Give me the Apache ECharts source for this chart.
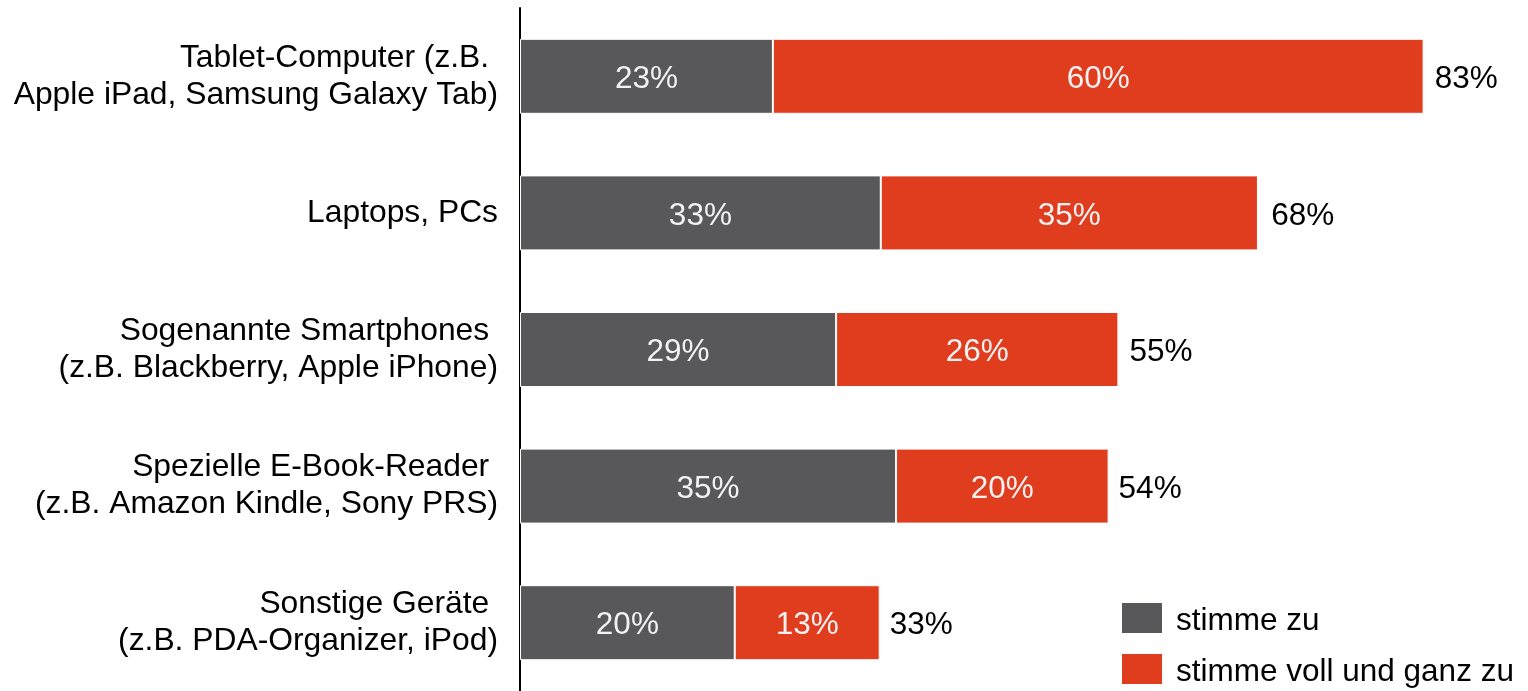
<!DOCTYPE html>
<html>
<head>
<meta charset="utf-8">
<script src="https://cdn.jsdelivr.net/npm/echarts@6/dist/echarts.min.js"></script>
<style>html,body{margin:0;padding:0;background:#fff;}#c{width:1528px;height:691px;}</style>
</head>
<body>
<div id="c"></div>
<script>
const categories = [
  'Tablet-Computer (z.B. \nApple iPad, Samsung Galaxy Tab)',
  'Laptops, PCs',
  'Sogenannte Smartphones \n(z.B. Blackberry, Apple iPhone)',
  'Spezielle E-Book-Reader \n(z.B. Amazon Kindle, Sony PRS)',
  'Sonstige Geräte \n(z.B. PDA-Organizer, iPod)'
];
const stimmeZu = [23.2, 33.1, 29.0, 34.5, 19.7];
const stimmeVoll = [59.7, 34.6, 25.9, 19.5, 13.3];
const totals = [83, 68, 55, 54, 33];
const seriesNames = ['stimme zu', 'stimme voll und ganz zu'];

const chart = echarts.init(document.getElementById('c'), null, {renderer: 'canvas'});
const font = "'Liberation Sans', Arial, sans-serif";
const FS = 31.5;
const legendBase = {
  orient: 'vertical',
  left: 1120,
  itemWidth: 42,
  itemHeight: 32,
  icon: 'rect',
  padding: 0,
  textStyle: {fontSize: FS, color: '#000', fontFamily: font, padding: [0, 0, 0, 8],
    rich: {t: {fontSize: FS, color: '#000', fontFamily: font, padding: [6, 0, 0, 0]}}},
  formatter: n => '{t|' + n + '}'
};
const pct = p => Math.round(p.value) + '%';
chart.setOption({
  animation: false,
  textStyle: {fontFamily: font},
  grid: {left: 520, right: 27, top: 8, bottom: -3, containLabel: false},
  legend: [
    Object.assign({}, legendBase, {top: 601, data: [seriesNames[0]]}),
    Object.assign({}, legendBase, {top: 652, data: [seriesNames[1]]})
  ],
  xAxis: {
    type: 'value', min: 0, max: 90,
    show: false
  },
  yAxis: {
    type: 'category',
    data: categories,
    inverse: true,
    axisLine: {show: true, lineStyle: {color: '#000', width: 2}},
    axisTick: {show: false},
    axisLabel: {fontSize: 31.8, color: '#000', lineHeight: 37, margin: 22, align: 'right', verticalAlign: 'middle', fontFamily: font, padding: [7, 0, 0, 0]}
  },
  series: [
    {
      name: seriesNames[0], type: 'bar', stack: 'a', data: stimmeZu, barWidth: 75,
      itemStyle: {color: '#58585a', borderColor: '#fff', borderWidth: 1},
      label: {show: true, position: 'inside', offset: [0, 3], formatter: pct, color: '#f2f2f2', fontSize: FS, fontFamily: font}
    },
    {
      name: seriesNames[1], type: 'bar', stack: 'a', data: stimmeVoll, barWidth: 75,
      itemStyle: {color: '#e03c1e', borderColor: '#fff', borderWidth: 1},
      label: {show: true, position: 'inside', offset: [0, 3], formatter: pct, color: '#f2f2f2', fontSize: FS, fontFamily: font}
    },
    {
      name: 'total', type: 'bar', data: totals, barWidth: 75, barGap: '-100%', z: 1,
      itemStyle: {color: 'rgba(0,0,0,0)'},
      label: {show: true, position: 'right', distance: 10, offset: [0, 3], formatter: '{c}%', color: '#000', fontSize: FS, fontFamily: font},
      silent: true
    }
  ]
});
</script>
</body>
</html>
